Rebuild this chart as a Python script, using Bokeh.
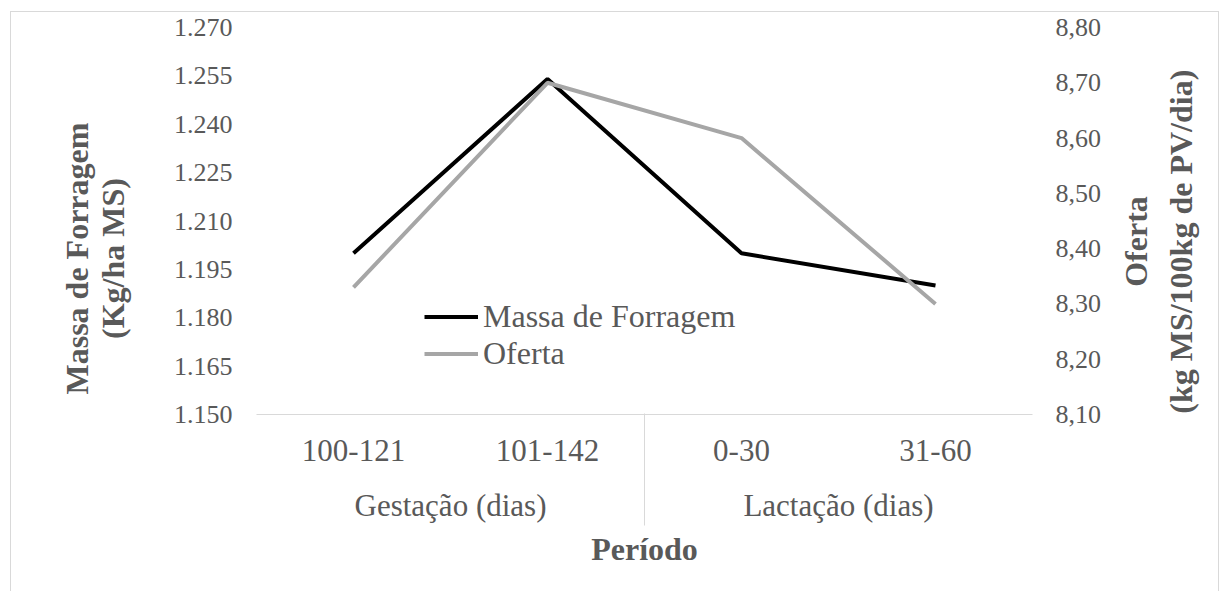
import math
from bokeh.plotting import figure
from bokeh.models import (FactorRange, Range1d, LinearAxis, CategoricalAxis, FixedTicker, Legend,
                          LegendItem, ColumnDataSource)
from bokeh.embed import file_html
from bokeh.resources import INLINE

# ---- data ----
groups = ["Gestação (dias)", "Gestação (dias)", "Lactação (dias)", "Lactação (dias)"]
periods = ["100-121", "101-142", "0-30", "31-60"]
massa = [1200, 1254, 1200, 1190]          # kg/ha MS
oferta = [8.33, 8.70, 8.60, 8.30]         # kg MS/100kg PV/dia
left_ticks = [1150, 1165, 1180, 1195, 1210, 1225, 1240, 1255, 1270]
left_labels = ["1.150", "1.165", "1.180", "1.195", "1.210", "1.225", "1.240", "1.255", "1.270"]
right_ticks = [8.1, 8.2, 8.3, 8.4, 8.5, 8.6, 8.7, 8.8]
right_labels = ["8,10", "8,20", "8,30", "8,40", "8,50", "8,60", "8,70", "8,80"]
left_title = "Massa de Forragem\n(Kg/ha MS)"
right_title_1 = "Oferta"
right_title_2 = "(kg MS/100kg de PV/dia)"
x_title = "Período"

FONT = "Liberation Serif"
GRAY = "#595959"
LINE = "#d9d9d9"

group_names = list(dict.fromkeys(groups))
src = ColumnDataSource(dict(x=periods, massa=massa, oferta=oferta))

p = figure(x_range=FactorRange(*periods, range_padding=0),
           y_range=Range1d(left_ticks[0], left_ticks[-1]),
           width=1209, height=580, output_backend="svg", toolbar_location=None)
# "frac": 0 = bottom of plot area, 1 = top (used only to place the axis titles)
p.extra_y_ranges = {"of": Range1d(right_ticks[0], right_ticks[-1]),
                    "frac": Range1d(0, 1)}
p.extra_x_ranges = {"grp": FactorRange(*group_names, range_padding=0),
                    # group boundaries (left edge, middle, right edge)
                    "sep": FactorRange("b0", "b1", "b2", range_padding=-1,
                                       range_padding_units="absolute")}
p.styles = {"margin-left": "10px", "margin-top": "11px",
            "border-top": "1px solid #d9d9d9", "border-left": "1px solid #d9d9d9",
            "border-right": "1px solid #d9d9d9"}
p.min_border_left = 245
p.min_border_right = 171
p.min_border_top = 15
p.min_border_bottom = 178
p.outline_line_color = None
p.grid.visible = False
p.background_fill_color = "white"

r1 = p.line("x", "massa", source=src, line_color="black", line_width=4)
r2 = p.line("x", "oferta", source=src, line_color="#a6a6a6", line_width=4, y_range_name="of")

def style_ticks(ax, size):
    ax.axis_line_color = None
    ax.major_tick_line_color = None
    ax.minor_tick_line_color = None
    ax.major_label_text_font = FONT
    ax.major_label_text_font_size = size
    ax.major_label_text_color = GRAY

def title_axis(pos, text, orient, standoff, place):
    ax = LinearAxis(y_range_name="frac", ticker=FixedTicker(ticks=[pos]))
    style_ticks(ax, "32px")
    ax.major_label_text_font_style = "bold"
    ax.major_label_text_line_height = 1.0
    ax.major_label_overrides = {pos: text}
    ax.major_label_orientation = orient
    ax.major_label_standoff = standoff
    p.add_layout(ax, place)
    return ax

# left tick axis
ya = p.yaxis[0]
ya.ticker = FixedTicker(ticks=left_ticks)
ya.major_label_overrides = dict(zip(left_ticks, left_labels))
style_ticks(ya, "26px")
ya.major_label_standoff = 18

# left title (two lines, reading bottom to top)
title_axis(0.403, left_title, "vertical", 33, "left")

# right tick axis
ra = LinearAxis(y_range_name="of", ticker=FixedTicker(ticks=right_ticks))
ra.major_label_overrides = dict(zip(right_ticks, right_labels))
style_ticks(ra, "26px")
ra.major_label_standoff = 17
p.add_layout(ra, "right")

# right title (two lines, reading bottom to top; each line starts at its tick)
title_axis(0.33, right_title_1, math.pi / 2, 26, "right")
title_axis(0.002, right_title_2, math.pi / 2, 0, "right")

# bottom: period labels
xa = p.xaxis[0]
style_ticks(xa, "31px")
xa.axis_line_color = LINE
xa.axis_line_width = 1
xa.major_label_standoff = 19

# bottom: group labels
ga = CategoricalAxis(x_range_name="grp")
style_ticks(ga, "31px")
ga.major_label_standoff = 18
p.add_layout(ga, "below")

# bottom: table separators + title
sa = CategoricalAxis(x_range_name="sep")
style_ticks(sa, "1px")
sa.major_label_text_alpha = 0
sa.major_tick_line_color = LINE
sa.major_tick_in = 112
sa.major_tick_out = 0
sa.major_label_standoff = 0
sa.axis_label = x_title
sa.axis_label_text_font = FONT
sa.axis_label_text_font_size = "32px"
sa.axis_label_text_font_style = "bold"
sa.axis_label_text_color = GRAY
sa.axis_label_standoff = 5
p.add_layout(sa, "below")

leg = Legend(items=[LegendItem(label="Massa de Forragem", renderers=[r1]),
                    LegendItem(label="Oferta", renderers=[r2])],
             location=(168, 42))
leg.glyph_width = 54
leg.glyph_height = 35
leg.label_height = 35
leg.spacing = 0
leg.padding = 0
leg.margin = 0
leg.label_standoff = 5
leg.label_text_font = FONT
leg.label_text_font_size = "32px"
leg.label_text_color = GRAY
leg.background_fill_alpha = 0
leg.border_line_alpha = 0
p.add_layout(leg)

open("out.html", "w").write(file_html(p, INLINE))
